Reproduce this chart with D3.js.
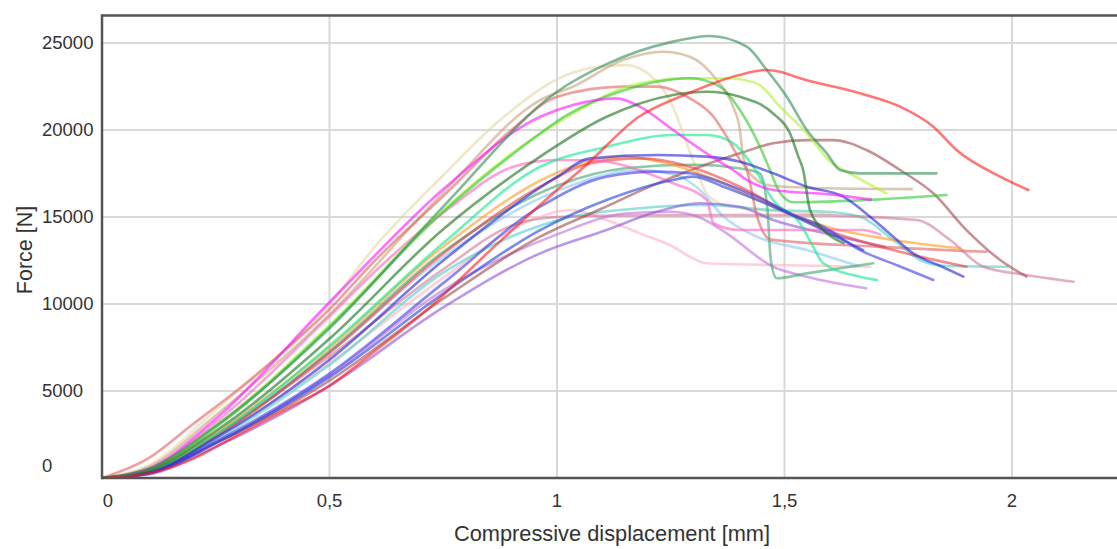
<!DOCTYPE html>
<html>
<head>
<meta charset="utf-8">
<script src="https://cdn.jsdelivr.net/npm/d3@7"></script>
<style>
  html, body { margin: 0; padding: 0; background: #fff; }
  svg { display: block; }
  text { font-family: "Liberation Sans", Arial, sans-serif; fill: #333; }
</style>
</head>
<body>
<svg id="chart" width="1117" height="549"></svg>
<script>
// ---- tick labels ----
const xTickValues = [0, 0.5, 1, 1.5, 2];
const xTickLabels = ["0", "0,5", "1", "1,5", "2"];
const yTickValues = [0, 5000, 10000, 15000, 20000, 25000];
const yTickLabels = ["0", "5000", "10000", "15000", "20000", "25000"];
const xTitle = "Compressive displacement [mm]";
const yTitle = "Force [N]";

// ---- series: [displacement mm, force N] ----
const seaGreen = [[0,0],[0.1,500],[0.25,3000],[0.5,8600],[0.75,15600],[1.0,22200],[1.11,23800],[1.25,25050],[1.336,25400],[1.417,24790],[1.461,23450],[1.505,21910],[1.549,20000],[1.593,18660],[1.622,17700],[1.666,17510],[1.834,17510]];
const red = [[0,0],[0.1,250],[0.2,1100],[0.3,2500],[0.4,3900],[0.5,5300],[0.6,7300],[0.72,9800],[0.85,13000],[1.0,16550],[1.06,17890],[1.18,20760],[1.29,22120],[1.4,23160],[1.46,23450],[1.49,23350],[1.534,22970],[1.666,22110],[1.754,21340],[1.827,20190],[1.878,18850],[1.974,17320],[2.036,16550]];
const tan = [[0,0],[0.1,600],[0.25,3600],[0.5,9400],[0.75,16400],[0.963,21720],[1.035,22490],[1.145,24020],[1.233,24500],[1.292,24210],[1.351,22870],[1.387,21340],[1.402,20000],[1.409,18470],[1.431,17300],[1.47,16800],[1.6,16650],[1.78,16600]];
const wheat = [[0,0],[0.1,700],[0.25,3900],[0.5,10000],[0.6,13300],[0.75,17400],[0.875,20570],[1.021,23160],[1.095,23640],[1.153,23730],[1.204,23160],[1.255,21340],[1.285,19240],[1.307,17700],[1.33,16300],[1.38,15600],[1.5,15300],[1.6,15200]];
const salmon = [[0,0],[0.1,1100],[0.2,3100],[0.3,5100],[0.4,7300],[0.5,9700],[0.6,12500],[0.75,16200],[0.9,20000],[1.0,21910],[1.146,22490],[1.219,22490],[1.292,21820],[1.344,20760],[1.373,19610],[1.402,18280],[1.417,17700],[1.44,15000],[1.47,13700],[1.7,13300],[1.944,13000]];
const magenta = [[0,0],[0.1,500],[0.25,3400],[0.5,10100],[0.75,16600],[0.963,20760],[1.035,21440],[1.131,21820],[1.182,21340],[1.255,20000],[1.307,19040],[1.351,18280],[1.387,17700],[1.417,17130],[1.475,16550],[1.6,16300],[1.69,16000]];
const chartreuse = [[0,0],[0.1,450],[0.25,3000],[0.5,8800],[0.75,15400],[0.963,19800],[1.0,20400],[1.182,22680],[1.292,22970],[1.373,22970],[1.439,22680],[1.49,21340],[1.549,19810],[1.6,18200],[1.65,17400],[1.724,16360]];
const limeGreen = [[0,0],[0.1,450],[0.25,2900],[0.5,8700],[0.75,15300],[0.963,19800],[1.0,20500],[1.15,22300],[1.292,22970],[1.358,22490],[1.402,21150],[1.446,19040],[1.468,17700],[1.49,16400],[1.52,15850],[1.7,16000],[1.856,16260]];
const darkGreen = [[0,0],[0.1,400],[0.25,2700],[0.5,8000],[0.75,14300],[0.963,18470],[1.109,20760],[1.255,22010],[1.329,22200],[1.402,21910],[1.475,20950],[1.512,19810],[1.53,18500],[1.541,17700],[1.556,15400],[1.593,14080],[1.63,13500]];
const springGreen = [[0,0],[0.1,350],[0.25,2500],[0.5,7600],[0.75,13500],[0.963,17890],[1.109,19040],[1.255,19710],[1.329,19710],[1.387,19240],[1.431,17900],[1.475,15980],[1.534,14640],[1.563,13290],[1.585,12340],[1.666,11570],[1.703,11380]];
const lightSeaGreen = [[0,0],[0.1,350],[0.25,2400],[0.5,7300],[0.75,13000],[1.0,16800],[1.15,17800],[1.3,18000],[1.4,17800],[1.446,17510],[1.462,15590],[1.47,12500],[1.483,11480],[1.549,11760],[1.695,12340]];
const blueA = [[0,0],[0.1,300],[0.25,2300],[0.5,6800],[0.75,12500],[1.0,17300],[1.073,18370],[1.219,18560],[1.329,18470],[1.402,18180],[1.475,17510],[1.549,16740],[1.629,16170],[1.688,15020],[1.739,13870],[1.783,12910],[1.85,12100],[1.893,11570]];
const blueB = [[0,0],[0.1,250],[0.25,2100],[0.5,6000],[0.75,11200],[0.963,15590],[1.109,17320],[1.219,17610],[1.292,17510],[1.366,16940],[1.439,16170],[1.512,15210],[1.585,14440],[1.666,13100],[1.75,12200],[1.827,11380]];
const blueC = [[0,0],[0.1,250],[0.25,2000],[0.5,5800],[0.75,10600],[0.963,14250],[1.109,15980],[1.255,17130],[1.3,17320],[1.366,16740],[1.475,15590],[1.585,14250],[1.673,13100]];
const orange = [[0,0],[0.1,350],[0.25,2600],[0.5,7500],[0.75,13300],[1.035,17890],[1.146,18470],[1.255,17990],[1.366,16940],[1.475,15590],[1.593,14440],[1.739,13680],[1.886,13200]];
const tomato = [[0,0],[0.1,300],[0.25,2400],[0.5,7200],[0.75,12900],[0.963,16740],[1.073,18080],[1.182,18370],[1.292,17890],[1.402,16740],[1.512,15210],[1.593,14250],[1.739,13100],[1.9,12140]];
const brown = [[0,0],[0.1,250],[0.25,2000],[0.5,5600],[0.75,10300],[0.963,13870],[1.1,15500],[1.2,16700],[1.314,17890],[1.402,18660],[1.475,19240],[1.549,19420],[1.607,19420],[1.68,18850],[1.754,17700],[1.827,16360],[1.9,14250],[1.974,12530],[2.032,11570]];
const mauve = [[0,0],[0.1,350],[0.25,2500],[0.5,7000],[0.75,12000],[0.9,14500],[1.0,15000],[1.2,15100],[1.534,15110],[1.79,14830],[1.864,13680],[1.937,12140],[2.032,11670],[2.135,11280]];
const palePink = [[0,0],[0.1,300],[0.25,2300],[0.5,6600],[0.75,11500],[0.95,14900],[1.03,15400],[1.109,14830],[1.182,14060],[1.255,13290],[1.292,12720],[1.329,12340],[1.475,12240],[1.688,12140]];
const skyBlue = [[0,0],[0.1,350],[0.25,2500],[0.5,7200],[0.75,12700],[1.0,16500],[1.182,17700],[1.27,17320],[1.314,16550],[1.366,15020],[1.439,13870],[1.549,13100],[1.66,12200]];
const purple = [[0,0],[0.1,200],[0.25,1800],[0.5,5300],[0.75,9800],[0.963,12910],[1.109,14250],[1.219,15300],[1.314,15790],[1.402,15590],[1.475,14830],[1.6,14000],[1.72,13300]];
const violet = [[0,0],[0.1,250],[0.25,2000],[0.5,5900],[0.75,10800],[1.0,14000],[1.15,15200],[1.25,15300],[1.32,14900],[1.373,14060],[1.475,12140],[1.549,11570],[1.68,10900]];
const turquoise = [[0,0],[0.1,300],[0.25,2200],[0.5,6500],[0.75,11800],[1.0,14800],[1.182,15500],[1.329,15690],[1.475,15400],[1.593,15300],[1.666,15020],[1.739,13680],[1.798,12530],[1.85,12200],[1.99,12140]];
const hotPink = [[0,0],[0.1,450],[0.25,3200],[0.5,9300],[0.611,12140],[0.758,15400],[0.904,17890],[1.0,18280],[1.1,18200],[1.2,17500],[1.255,16940],[1.329,15980],[1.344,14640],[1.402,14250],[1.67,14250],[1.71,14000]];

const seriesData = [palePink, wheat, skyBlue, turquoise, mauve, violet, purple, lightSeaGreen, brown, tan, salmon, orange, tomato, hotPink, springGreen, chartreuse, limeGreen, blueC, blueB, blueA, magenta, darkGreen, seaGreen, red];
const seriesColors = ["#ffb0c0", "#e6d5a6", "#87c8f0", "#4ed0c8", "#d07898", "#c070e0", "#9050d8", "#3aa870", "#a04848", "#c8a07a", "#e06060", "#ff9a20", "#f03c3c", "#ff60c0", "#10e890", "#b0f030", "#30c830", "#2040e0", "#3838e8", "#2020d8", "#ff10ff", "#147014", "#2e8b57", "#ff1a1a"];

// ---- layout ----
const svg = d3.select("#chart");
const plotLeft = 102, plotRight = 1117, plotTop = 15.5, plotBottom = 478;
const x = d3.scaleLinear().domain([0, 2]).range([102, 1012]);
const y = d3.scaleLinear().domain([0, 25000]).range([478, 43]);

svg.append("defs").append("clipPath").attr("id", "plotclip")
  .append("rect").attr("x", plotLeft).attr("y", plotTop).attr("width", plotRight - plotLeft).attr("height", plotBottom - plotTop);

// grid
const grid = svg.append("g");
grid.selectAll("line.vx").data(xTickValues.filter(v => v > 0)).enter().append("line")
  .attr("x1", d => x(d)).attr("x2", d => x(d)).attr("y1", plotTop).attr("y2", plotBottom)
  .attr("stroke", "#d9d9d9").attr("stroke-width", 2);
grid.selectAll("line.hy").data(yTickValues.filter(v => v > 0)).enter().append("line")
  .attr("x1", plotLeft).attr("x2", plotRight).attr("y1", d => y(d)).attr("y2", d => y(d))
  .attr("stroke", "#d9d9d9").attr("stroke-width", 2);

// curves
const line = d3.line().x(d => x(d[0])).y(d => y(d[1])).curve(d3.curveMonotoneX);
const curves = svg.append("g").attr("clip-path", "url(#plotclip)");
curves.selectAll("path").data(seriesData).enter().append("path")
  .attr("d", d => line(d))
  .attr("fill", "none")
  .attr("stroke", (d, i) => seriesColors[i])
  .attr("stroke-width", 2.6)
  .attr("stroke-opacity", 0.6)
  .attr("stroke-linecap", "round")
  .attr("stroke-linejoin", "round");

// frame
svg.append("line").attr("x1", plotLeft).attr("x2", plotRight).attr("y1", plotTop).attr("y2", plotTop)
  .attr("stroke", "#555").attr("stroke-width", 2.5);
svg.append("line").attr("x1", plotLeft).attr("x2", plotLeft).attr("y1", plotTop - 1.2).attr("y2", plotBottom + 1.2)
  .attr("stroke", "#555").attr("stroke-width", 2.5);
svg.append("line").attr("x1", plotLeft).attr("x2", plotRight).attr("y1", plotBottom).attr("y2", plotBottom)
  .attr("stroke", "#555").attr("stroke-width", 2.5);

// tick labels
svg.selectAll("text.xt").data(xTickValues).enter().append("text")
  .attr("x", (d, i) => x(d) + (i === 0 ? 6 : 0))
  .attr("y", 507)
  .attr("text-anchor", "middle")
  .attr("font-size", 18.5)
  .text((d, i) => xTickLabels[i]);
svg.selectAll("text.yt").data(yTickValues).enter().append("text")
  .attr("x", 42)
  .attr("y", (d, i) => y(d) + (i === 0 ? -12 : 0))
  .attr("dy", "0.35em")
  .attr("text-anchor", "start")
  .attr("font-size", 18.5)
  .text((d, i) => yTickLabels[i]);

// titles
svg.append("text").attr("x", 612).attr("y", 541).attr("text-anchor", "middle")
  .attr("font-size", 21.8).text(xTitle);
svg.append("text").attr("transform", "translate(32,250) rotate(-90)").attr("text-anchor", "middle")
  .attr("font-size", 21.5).text(yTitle);
</script>
</body>
</html>
